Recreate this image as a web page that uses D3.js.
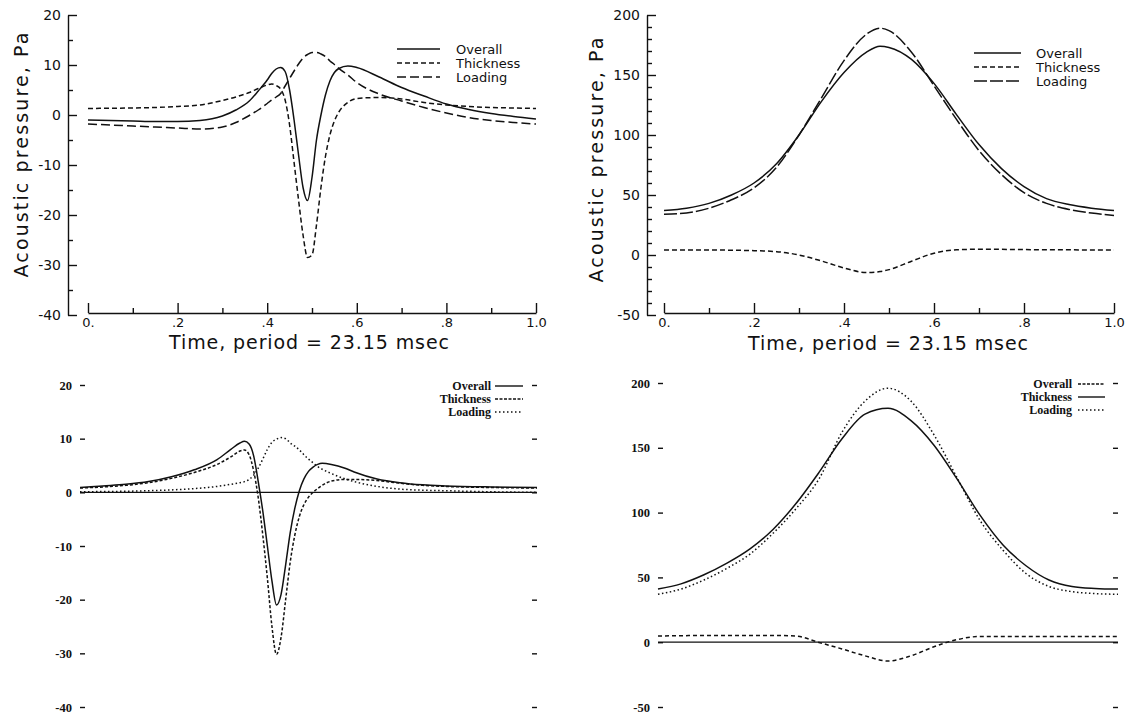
<!DOCTYPE html>
<html><head><meta charset="utf-8">
<script src="https://cdn.jsdelivr.net/npm/d3@7"></script>
<style>body{margin:0;background:#fff} svg{display:block}</style>
</head><body>
<script>
// ---------- shared labels ----------
const seriesNames = ["Overall", "Thickness", "Loading"];
const topXTicks = [0, 0.2, 0.4, 0.6, 0.8, 1.0];
const topXTickLabels = ["0.", ".2", ".4", ".6", ".8", "1.0"];
const topXMinorTicks = [0.1, 0.3, 0.5, 0.7, 0.9];
const xTitle = "Time, period = 23.15 msec";
const yTitle = "Acoustic pressure, Pa";
const leftYTicks = [20, 10, 0, -10, -20, -30, -40];
const leftYMinorTicks = [15, 5, -5, -15, -25, -35];
const rightYTicks = [200, 150, 100, 50, 0, -50];
const rightYMinorTicks = [190,180,170,160,140,130,120,110,90,80,70,60,40,30,20,10,-10,-20,-30,-40];

// ---------- top-left panel ----------
const tlTime = [0,0.05,0.1,0.15,0.2,0.25,0.3,0.33,0.36,0.38,0.40,0.41,0.42,0.43,0.44,0.45,0.46,0.47,0.48,0.49,0.50,0.51,0.52,0.53,0.54,0.55,0.56,0.58,0.60,0.65,0.70,0.75,0.80,0.85,0.90,0.95,1.0];
const tlOverall = [-1.0,-1.1,-1.2,-1.3,-1.3,-1.1,-0.2,1.0,2.8,4.8,7.0,8.3,9.2,9.5,8.7,5.0,-1.0,-8.0,-14.5,-17.1,-12.5,-5.0,0.0,4.0,6.8,8.5,9.3,9.8,9.5,7.6,5.5,3.8,2.2,1.1,0.3,-0.3,-0.8];
const tlThickness = [1.3,1.35,1.4,1.5,1.7,2.0,2.9,3.6,4.5,5.3,6.0,6.2,5.9,5.2,3.0,-2.0,-9.5,-17.0,-24.0,-28.5,-28.0,-22.0,-14.5,-8.3,-4.0,-1.2,0.6,2.5,3.3,3.5,3.2,2.5,2.0,1.7,1.5,1.4,1.3];
const tlLoading = [-1.8,-2.0,-2.2,-2.4,-2.6,-2.8,-2.4,-1.5,-0.1,1.0,2.3,3.0,3.6,4.3,5.8,7.3,8.8,10.2,11.4,12.1,12.5,12.5,12.2,11.7,10.8,10.1,9.3,8.0,6.5,4.2,2.8,1.5,0.4,-0.5,-1.1,-1.5,-1.8];

// ---------- top-right panel ----------
const trTime = [0,0.05,0.1,0.15,0.2,0.25,0.3,0.35,0.4,0.45,0.48,0.5,0.55,0.6,0.65,0.7,0.75,0.8,0.85,0.9,0.95,1.0];
const trOverall = [37,39,43,50,60,76,100,128,152,169,174,173,163,143,117,92,72,57,47,42,39,37];
const trThickness = [4.2,4.2,4.2,4.0,3.6,2.8,0,-5,-10.8,-14.6,-13.8,-12.2,-5.2,1.5,4.3,4.8,4.7,4.5,4.4,4.3,4.2,4.2];
const trLoading = [34,35,39,46,56,73,100,131,162,184,189,187,169,141,113,87,67,52,43,38,35,33];

// ---------- bottom-left panel ----------
const blTime = [0,0.05,0.1,0.15,0.2,0.25,0.3,0.33,0.35,0.36,0.37,0.38,0.39,0.40,0.41,0.42,0.43,0.44,0.45,0.46,0.47,0.48,0.49,0.50,0.51,0.52,0.53,0.55,0.58,0.60,0.65,0.70,0.75,0.80,0.90,1.0];
const blOverall = [0.9,1.2,1.5,2.0,2.9,4.2,6.1,8.0,9.2,9.5,9.0,6.8,2.0,-3.5,-10.0,-16.5,-21.0,-19.0,-13.5,-7.5,-3.0,0.3,2.5,3.9,4.7,5.2,5.4,5.2,4.5,3.8,2.5,1.8,1.4,1.2,1.0,0.9];
const blThickness = [0.8,1.0,1.3,1.8,2.6,3.7,5.2,6.6,7.7,7.9,7.0,4.0,-1.0,-8.0,-16.0,-25.0,-30.2,-27.0,-20.0,-13.0,-8.0,-4.5,-2.3,-0.9,0.0,0.7,1.3,2.1,2.4,2.4,2.2,1.7,1.3,1.1,0.9,0.8];
const blLoading = [0.1,0.15,0.2,0.3,0.45,0.7,1.1,1.5,1.8,2.0,2.4,3.2,4.5,6.2,8.0,9.3,9.9,10.2,10.0,9.2,8.6,7.9,7.0,6.2,5.5,4.8,4.3,3.5,2.5,2.0,1.1,0.6,0.4,0.3,0.1,0.0];

// ---------- bottom-right panel ----------
const brTime = [0,0.05,0.1,0.15,0.2,0.25,0.3,0.35,0.4,0.45,0.5,0.55,0.6,0.65,0.7,0.75,0.8,0.85,0.9,0.95,1.0];
const brOverall = [41,45,52,61,72,87,107,131,157,176,180.5,171,152,126,98,75,59,48,43,41.5,41];
const brThickness = [4.8,5.0,5.2,5.2,5.2,5.2,4.7,-0.2,-5.2,-10.5,-14.5,-10.5,-3.5,2.0,4.4,4.4,4.4,4.4,4.4,4.4,4.4];
const brLoading = [37,41,48,57,68,84,103,126,162,186,196,186,160,127,94,71,53,43,39,37.5,37];

// ---------- drawing ----------
const svg = d3.select("body").append("svg").attr("width", 1127).attr("height", 718);
svg.append("rect").attr("width", 1127).attr("height", 718).attr("fill", "#fff");
const INK = "#111";
const sansFont = "'DejaVu Sans', Verdana, sans-serif";
const serifFont = "'Liberation Serif', 'Times New Roman', serif";

function zip(t, v) { return t.map((d, i) => [d, v[i]]); }

function drawCurves(g, x, y, time, sets) {
  const line = d3.line().x(d => x(d[0])).y(d => y(d[1])).curve(d3.curveMonotoneX);
  sets.forEach(s => {
    g.append("path").datum(zip(time, s.values))
      .attr("fill", "none").attr("stroke", INK)
      .attr("stroke-width", s.width || 1.5)
      .attr("stroke-dasharray", s.dash || null)
      .attr("stroke-linejoin", "round")
      .attr("d", line);
  });
}

function styleAxis(sel, font, size, weight) {
  sel.selectAll("path,line").attr("stroke", INK).attr("stroke-width", 1.4);
  sel.selectAll("text").attr("fill", INK).attr("font-family", font).attr("font-size", size).attr("font-weight", weight || "normal");
  sel.attr("font-family", null).attr("font-size", null);
}

function topPanel(p) {
  const g = svg.append("g");
  const x = d3.scaleLinear().domain([0, 1]).range([p.x0, p.x1]);
  const y = d3.scaleLinear().domain(p.yDomain).range([p.yBottom, p.yTop]);
  const ya = g.append("g").attr("transform", `translate(${p.axisX},0)`)
    .call(d3.axisLeft(y).tickValues(p.yTicks).tickFormat(d => String(d))
      .tickSizeInner(-9).tickSizeOuter(0).tickPadding(7));
  styleAxis(ya, sansFont, 14);
  const ym = g.append("g").attr("transform", `translate(${p.axisX},0)`)
    .call(d3.axisLeft(y).tickValues(p.yMinor).tickFormat("").tickSizeInner(-5).tickSizeOuter(0));
  ym.select(".domain").remove();
  styleAxis(ym, sansFont, 14);
  const xa = g.append("g").attr("transform", `translate(0,${p.axisY})`)
    .call(d3.axisBottom(x).tickValues(topXTicks).tickFormat((d, i) => topXTickLabels[i])
      .tickSizeInner(-10).tickSizeOuter(0).tickPadding(5));
  styleAxis(xa, sansFont, 13);
  const xm = g.append("g").attr("transform", `translate(0,${p.axisY})`)
    .call(d3.axisBottom(x).tickValues(topXMinorTicks).tickFormat("").tickSizeInner(-5).tickSizeOuter(0));
  xm.select(".domain").remove();
  styleAxis(xm, sansFont, 13);
  g.append("text").attr("x", p.xTitleX).attr("y", p.xTitleY).attr("text-anchor", "middle")
    .attr("font-family", sansFont).attr("font-size", 19).attr("fill", INK)
    .attr("textLength", 280).attr("lengthAdjust", "spacing").text(xTitle);
  g.append("text").attr("transform", `translate(${p.yTitleX},${p.yTitleY}) rotate(-90)`)
    .attr("text-anchor", "middle").attr("font-family", sansFont).attr("font-size", 19).attr("fill", INK)
    .attr("textLength", 245).attr("lengthAdjust", "spacing").text(yTitle);
  drawCurves(g, x, y, p.time, p.sets);
  p.sets.forEach((s, i) => {
    const ly = p.legY + i * p.legStep;
    g.append("line").attr("x1", p.legX0).attr("x2", p.legX1).attr("y1", ly).attr("y2", ly)
      .attr("stroke", INK).attr("stroke-width", 1.5).attr("stroke-dasharray", s.dash || null);
    g.append("text").attr("x", p.legTX).attr("y", ly).attr("dy", "0.35em")
      .attr("font-family", sansFont).attr("font-size", 13).attr("fill", INK).text(seriesNames[i]);
  });
}

function bottomPanel(p) {
  const g = svg.append("g");
  const x = d3.scaleLinear().domain([0, 1]).range([p.x0, p.x1]);
  const y = d3.scaleLinear().domain(p.yDomain).range([p.yBottom, p.yTop]);
  const ya = g.append("g").attr("transform", `translate(${p.x0},0)`)
    .call(d3.axisLeft(y).tickValues(p.yTicks).tickFormat(d => String(d))
      .tickSizeInner(-5).tickSizeOuter(0).tickPadding(8));
  ya.select(".domain").remove();
  styleAxis(ya, serifFont, 12.5, "bold");
  const yr = g.append("g").attr("transform", `translate(${p.x1},0)`)
    .call(d3.axisRight(y).tickValues(p.yTicks).tickFormat("").tickSizeInner(-5).tickSizeOuter(0));
  yr.select(".domain").remove();
  styleAxis(yr, serifFont, 12);
  g.append("line").attr("x1", x(0)).attr("x2", x(1)).attr("y1", y(0)).attr("y2", y(0))
    .attr("stroke", INK).attr("stroke-width", 1.2);
  drawCurves(g, x, y, p.time, p.sets);
  p.legend.forEach((dash, i) => {
    const ly = p.legY + i * p.legStep;
    g.append("text").attr("x", p.legTX).attr("y", ly).attr("dy", "0.32em").attr("text-anchor", "end")
      .attr("font-family", serifFont).attr("font-size", 12).attr("font-weight", "bold").attr("fill", INK)
      .text(seriesNames[i]);
    g.append("line").attr("x1", p.legX0).attr("x2", p.legX1).attr("y1", ly).attr("y2", ly)
      .attr("stroke", INK).attr("stroke-width", 1.4).attr("stroke-dasharray", dash);
  });
}

topPanel({
  x0: 88, x1: 536, axisX: 68, axisY: 313, yTop: 15, yBottom: 315, yDomain: [-40, 20],
  yTicks: leftYTicks, yMinor: leftYMinorTicks,
  xTitleX: 309, xTitleY: 349, yTitleX: 28, yTitleY: 155,
  time: tlTime,
  sets: [
    { values: tlOverall },
    { values: tlThickness, dash: "5,3" },
    { values: tlLoading, dash: "9,4" }
  ],
  legX0: 397, legX1: 440, legTX: 456, legY: 49, legStep: 14
});

topPanel({
  x0: 664, x1: 1114, axisX: 647, axisY: 313, yTop: 15, yBottom: 315, yDomain: [-50, 200],
  yTicks: rightYTicks, yMinor: rightYMinorTicks,
  xTitleX: 888, xTitleY: 350, yTitleX: 603, yTitleY: 160,
  time: trTime,
  sets: [
    { values: trOverall },
    { values: trThickness, dash: "5,3" },
    { values: trLoading, dash: "13,3" }
  ],
  legX0: 974, legX1: 1021, legTX: 1036, legY: 53, legStep: 14
});

bottomPanel({
  x0: 80, x1: 537, yTop: 385, yBottom: 707, yDomain: [-40, 20],
  yTicks: leftYTicks,
  time: blTime,
  sets: [
    { values: blOverall },
    { values: blThickness, dash: "3,2" },
    { values: blLoading, dash: "1.5,2.5" }
  ],
  legend: [null, "3,1.5", "1.5,2.5"],
  legTX: 491, legX0: 495, legX1: 523, legY: 386, legStep: 13
});

bottomPanel({
  x0: 658, x1: 1118, yTop: 383, yBottom: 707, yDomain: [-50, 200],
  yTicks: rightYTicks,
  time: brTime,
  sets: [
    { values: brOverall },
    { values: brThickness, dash: "4,3" },
    { values: brLoading, dash: "1.5,2.5" }
  ],
  legend: ["3,1.5", null, "1.5,2.5"],
  legTX: 1072, legX0: 1078, legX1: 1105, legY: 384, legStep: 13
});
</script>
</body></html>
